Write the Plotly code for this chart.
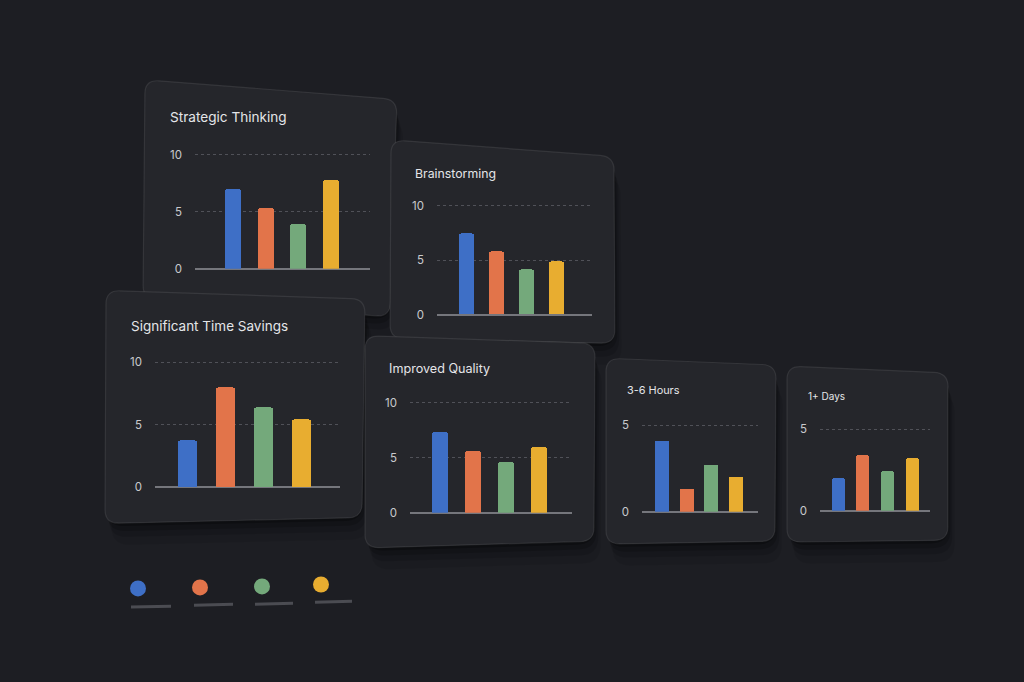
import plotly.graph_objects as go

W, H = 1024, 682

# ---------------- data ----------------
categories = ["Group 1", "Group 2", "Group 3", "Group 4"]
series_colors = ["#3e6fc6", "#e2744a", "#74a97b", "#e8ad30"]

titles = ["Strategic Thinking", "Brainstorming", "Significant Time Savings",
          "Improved Quality", "3-6 Hours", "1+ Days"]

strategic_thinking = [7.0, 5.3, 3.9, 7.8]
brainstorming = [7.5, 5.8, 4.2, 4.9]
time_savings = [3.7, 8.0, 6.4, 5.4]
improved_quality = [7.3, 5.6, 4.6, 5.9]
hours_3_6 = [4.1, 1.3, 2.7, 2.0]
days_1_plus = [2.0, 3.4, 2.4, 3.2]

ticks_ten = [0, 5, 10]
ticks_five = [0, 5]

panel_values = [strategic_thinking, brainstorming, time_savings,
                improved_quality, hours_3_6, days_1_plus]
panel_ticks = [ticks_ten, ticks_ten, ticks_ten, ticks_ten, ticks_five, ticks_five]

# ---------------- geometry (pixels) ----------------
# card corners: TL, TR, BR, BL
cards = [
    [(145, 77), (397, 97), (390, 318), (143, 300)],
    [(391, 138), (614, 155), (615, 345), (390, 340)],
    [(106, 291), (365, 300), (362, 522), (105, 528)],
    [(365, 337), (595, 345), (594, 546), (365, 553)],
    [(606, 360), (776, 367), (775, 546), (606, 549)],
    [(787, 368), (948, 375), (948, 545), (787, 547)],
]
# plot geometry: left, right, first bar center, spacing, bar width, y0 px, ytick px, tick value, ymax
plots = [
    (195, 370, 233, 32.5, 16, 269, 153, 10, 10.3),
    (437, 592, 466, 30.0, 15, 316, 205, 10, 10.3),
    (155, 340, 187, 38.0, 19, 491, 364, 10, 10.3),
    (410, 572, 440, 33.0, 16, 517, 405, 10, 10.3),
    (642, 758, 662, 24.5, 14, 516, 428, 5, 5.3),
    (820, 930, 838, 24.7, 13, 515, 432, 5, 5.3),
]
title_pos = [(168, 115, 13.6), (413, 172, 12.3), (129, 327, 13.5),
             (387, 370, 12.6), (625, 392, 10.9), (806, 398, 10.0)]

legend_dots = [(138, 594), (200, 593), (262, 592), (321, 590)]
legend_lines = [((131, 613), (171, 612)), ((194, 611), (233, 610)),
                ((255, 610), (293, 609)), ((315, 608), (352, 607))]


def px(x):
    return x / W


def py(y):
    return 1 - y / H


def rounded_path(pts, r=14):
    n = len(pts)
    segs = []
    for i in range(n):
        p = pts[i]
        prev = pts[i - 1]
        nxt = pts[(i + 1) % n]

        def toward(a, b, d):
            dx, dy = b[0] - a[0], b[1] - a[1]
            L = (dx * dx + dy * dy) ** 0.5
            return (a[0] + dx / L * d, a[1] + dy / L * d)
        a = toward(p, prev, r)
        b = toward(p, nxt, r)
        cmd = "M" if i == 0 else "L"
        segs.append(f"{cmd} {px(a[0]):.5f},{py(a[1]):.5f}")
        segs.append(f"Q {px(p[0]):.5f},{py(p[1]):.5f} {px(b[0]):.5f},{py(b[1]):.5f}")
    segs.append("Z")
    return " ".join(segs)


fig = go.Figure()
shapes = []

for c in cards:
    # soft shadows
    for (off, op) in [(22, 0.08), (14, 0.12), (8, 0.16), (3, 0.25)]:
        sh = [(x + off * 0.3, y + off) for (x, y) in c]
        shapes.append(dict(type="path", xref="paper", yref="paper", path=rounded_path(sh, 18),
                           fillcolor=f"rgba(0,0,0,{op})", line=dict(width=0), layer="below"))
    shapes.append(dict(type="path", xref="paper", yref="paper", path=rounded_path(c, 14),
                       fillcolor="#25262b", line=dict(color="rgba(255,255,255,0.09)", width=1.2),
                       layer="below"))

for (a, b) in legend_lines:
    shapes.append(dict(type="line", xref="paper", yref="paper",
                       x0=px(a[0]), y0=py(a[1]), x1=px(b[0]), y1=py(b[1]),
                       line=dict(color="#4b4c52", width=3), layer="below"))

annotations = []
layout_axes = {}
for i, (vals, ticks, geo) in enumerate(zip(panel_values, panel_ticks, plots)):
    left, right, c0, sp, bw, y0, yt, tv, ymax = geo
    unit = (y0 - yt) / tv
    ytop = y0 - ymax * unit
    idx = i + 1
    xa = "x" if idx == 1 else f"x{idx}"
    ya = "y" if idx == 1 else f"y{idx}"
    fig.add_trace(go.Bar(
        x=categories, y=vals, xaxis=xa, yaxis=ya,
        marker=dict(color=series_colors, cornerradius=2, line=dict(width=0)),
        width=bw / sp, showlegend=False, hoverinfo="skip"))
    xr = [(left - c0) / sp, (right - c0) / sp]
    layout_axes[f"xaxis{'' if idx == 1 else idx}"] = dict(
        domain=[px(left), px(right)], range=xr, type="category",
        showticklabels=False, showgrid=False, zeroline=False, showline=False,
        anchor=ya, fixedrange=True)
    layout_axes[f"yaxis{'' if idx == 1 else idx}"] = dict(
        domain=[py(y0), py(ytop)], range=[0, ymax], tickvals=ticks,
        showgrid=True, gridcolor="#505158", griddash="dot", gridwidth=1,
        zeroline=True, zerolinecolor="#75767c", zerolinewidth=1.5,
        showline=False, ticks="", ticklabelstandoff=12,
        tickfont=dict(family="Inter, Roboto, sans-serif", size=11.5, color="#c9cacd"),
        anchor=xa, fixedrange=True)
    tx, ty, ts = title_pos[i]
    annotations.append(dict(text=titles[i], xref="paper", yref="paper",
                            x=px(tx), y=py(ty), xanchor="left", yanchor="middle",
                            showarrow=False,
                            font=dict(family="Inter, Roboto, sans-serif", size=ts, color="#e4e5e8")))

# legend dots (unlabeled series markers)
fig.add_trace(go.Scatter(
    x=[d[0] for d in legend_dots], y=[d[1] for d in legend_dots],
    xaxis="x7", yaxis="y7", mode="markers",
    marker=dict(color=series_colors, size=16, line=dict(width=0)),
    text=categories, hoverinfo="text", showlegend=False))
layout_axes["xaxis7"] = dict(domain=[0, 1], range=[0, W], visible=False, anchor="y7", fixedrange=True)
layout_axes["yaxis7"] = dict(domain=[0, 1], range=[H, 0], visible=False, anchor="x7", fixedrange=True)

fig.update_layout(
    width=W, height=H, margin=dict(l=0, r=0, t=0, b=0),
    paper_bgcolor="#1d1e23", plot_bgcolor="rgba(0,0,0,0)",
    shapes=shapes, annotations=annotations, showlegend=False,
    bargap=0, **layout_axes)

fig.write_html(
    "out.html",
    config={"displayModeBar": False},
    post_script="document.body.style.margin='0';document.body.style.overflow='hidden';"
                "document.body.style.background='#1d1e23';")
